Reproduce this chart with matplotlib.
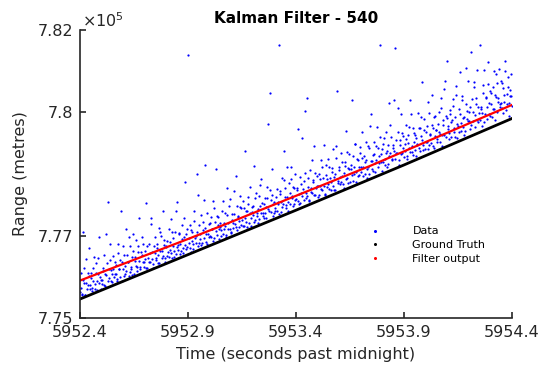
import matplotlib
matplotlib.use("Agg")
import matplotlib.pyplot as plt
from matplotlib.lines import Line2D
from matplotlib.ticker import FuncFormatter

# Radar range data (metres) vs time (seconds past midnight), first batch of samples
data_t = [
    5952.400, 5952.405, 5952.410, 5952.415, 5952.420, 5952.425, 5952.430, 5952.435, 5952.440, 5952.445,
    5952.450, 5952.455, 5952.460, 5952.465, 5952.470, 5952.475, 5952.480, 5952.485, 5952.490, 5952.495,
    5952.500, 5952.505, 5952.510, 5952.515, 5952.520, 5952.525, 5952.530, 5952.535, 5952.540, 5952.545,
    5952.550, 5952.555, 5952.560, 5952.565, 5952.570, 5952.575, 5952.580, 5952.585, 5952.590, 5952.595,
    5952.600, 5952.605, 5952.610, 5952.615, 5952.620, 5952.625, 5952.630, 5952.635, 5952.640, 5952.645,
    5952.650, 5952.655, 5952.660, 5952.665, 5952.670, 5952.675, 5952.680, 5952.685, 5952.690, 5952.695,
    5952.700, 5952.705, 5952.710, 5952.715, 5952.720, 5952.725, 5952.730, 5952.735, 5952.740, 5952.745,
    5952.750, 5952.755, 5952.760, 5952.765, 5952.770, 5952.775, 5952.780, 5952.785, 5952.790, 5952.795,
    5952.800, 5952.805, 5952.810, 5952.815, 5952.820, 5952.825, 5952.830, 5952.835, 5952.840, 5952.845,
    5952.850, 5952.855, 5952.860, 5952.865, 5952.870, 5952.875, 5952.880, 5952.885, 5952.890, 5952.895,
    5952.900, 5952.905, 5952.910, 5952.915, 5952.920, 5952.925, 5952.930, 5952.935, 5952.940, 5952.945,
    5952.950, 5952.955, 5952.960, 5952.965, 5952.970, 5952.975, 5952.980, 5952.985, 5952.990, 5952.995,
    5953.000, 5953.005, 5953.010, 5953.015, 5953.020, 5953.025, 5953.030, 5953.035, 5953.040, 5953.045,
    5953.050, 5953.055, 5953.060, 5953.065, 5953.070, 5953.075, 5953.080, 5953.085, 5953.090, 5953.095,
    5953.100, 5953.105, 5953.110, 5953.115, 5953.120, 5953.125, 5953.130, 5953.135, 5953.140, 5953.145,
    5953.150, 5953.155, 5953.160, 5953.165, 5953.170, 5953.175, 5953.180, 5953.185, 5953.190, 5953.195,
    5953.200, 5953.205, 5953.210, 5953.215, 5953.220, 5953.225, 5953.230, 5953.235, 5953.240, 5953.245,
    5953.250, 5953.255, 5953.260, 5953.265, 5953.270, 5953.275, 5953.280, 5953.285, 5953.290, 5953.295,
    5953.300, 5953.305, 5953.310, 5953.315, 5953.320, 5953.325, 5953.330, 5953.335, 5953.340, 5953.345,
    5953.350, 5953.355, 5953.360, 5953.365, 5953.370, 5953.375, 5953.380, 5953.385, 5953.390, 5953.395,
    5953.400, 5953.405, 5953.410, 5953.415, 5953.420, 5953.425, 5953.430, 5953.435, 5953.440, 5953.445,
    5953.450, 5953.455, 5953.460, 5953.465, 5953.470, 5953.475, 5953.480, 5953.485, 5953.490, 5953.495,
    5953.500, 5953.505, 5953.510, 5953.515, 5953.520, 5953.525, 5953.530, 5953.535, 5953.540, 5953.545,
    5953.550, 5953.555, 5953.560, 5953.565, 5953.570, 5953.575, 5953.580, 5953.585, 5953.590, 5953.595,
    5953.600, 5953.605, 5953.610, 5953.615, 5953.620, 5953.625, 5953.630, 5953.635, 5953.640, 5953.645,
    5953.650, 5953.655, 5953.660, 5953.665, 5953.670, 5953.675, 5953.680, 5953.685, 5953.690, 5953.695,
    5953.700, 5953.705, 5953.710, 5953.715, 5953.720, 5953.725, 5953.730, 5953.735, 5953.740, 5953.745,
    5953.750, 5953.755, 5953.760, 5953.765, 5953.770, 5953.775, 5953.780, 5953.785, 5953.790, 5953.795,
    5953.800, 5953.805, 5953.810, 5953.815, 5953.820, 5953.825, 5953.830, 5953.835, 5953.840, 5953.845,
    5953.850, 5953.855, 5953.860, 5953.865, 5953.870, 5953.875, 5953.880, 5953.885, 5953.890, 5953.895,
    5953.900, 5953.905, 5953.910, 5953.915, 5953.920, 5953.925, 5953.930, 5953.935, 5953.940, 5953.945,
    5953.950, 5953.955, 5953.960, 5953.965, 5953.970, 5953.975, 5953.980, 5953.985, 5953.990, 5953.995,
    5954.000, 5954.005, 5954.010, 5954.015, 5954.020, 5954.025, 5954.030, 5954.035, 5954.040, 5954.045,
    5954.050, 5954.055, 5954.060, 5954.065, 5954.070, 5954.075, 5954.080, 5954.085, 5954.090, 5954.095,
    5954.100, 5954.105, 5954.110, 5954.115, 5954.120, 5954.125, 5954.130, 5954.135, 5954.140, 5954.145,
    5954.150, 5954.155, 5954.160, 5954.165, 5954.170, 5954.175, 5954.180, 5954.185, 5954.190, 5954.195,
    5954.200, 5954.205, 5954.210, 5954.215, 5954.220, 5954.225, 5954.230, 5954.235, 5954.240, 5954.245,
    5954.250, 5954.255, 5954.260, 5954.265, 5954.270, 5954.275, 5954.280, 5954.285, 5954.290, 5954.295,
    5954.300, 5954.305, 5954.310, 5954.315, 5954.320, 5954.325, 5954.330, 5954.335, 5954.340, 5954.345,
    5954.350, 5954.355, 5954.360, 5954.365, 5954.370, 5954.375, 5954.380, 5954.385, 5954.390, 5954.395,
    5954.400,
]
data_r = [
    775640, 776090, 775570, 777090, 775840, 775560, 776440, 775800, 776030, 775710,
    776090, 775650, 775890, 776480, 775820, 776330, 775670, 776060, 776960, 775920,
    775820, 776150, 776530, 775770, 776050, 776330, 777810, 775960, 776790, 776160,
    775870, 776500, 776060, 776290, 775940, 776790, 776200, 776420, 777590, 775910,
    776190, 776540, 776080, 777170, 776350, 776030, 776750, 776200, 776490, 777040,
    776060, 776390, 776890, 776230, 776600, 777440, 776200, 776530, 776790, 776360,
    776630, 777790, 776220, 776470, 776790, 776350, 777290, 776600, 776220, 776970,
    776470, 776810, 776340, 777180, 776620, 776990, 776450, 777600, 776780, 776370,
    776720, 776510, 777160, 776650, 777410, 776450, 776950, 776640, 777080, 776550,
    777830, 776770, 777040, 776550, 777250, 776700, 776960, 778310, 776670, 777170,
    781390, 776830, 777260, 776610, 777100, 776790, 777600, 776990, 778510, 776750,
    777260, 776920, 777500, 776820, 777140, 777860, 778730, 777050, 776810, 777290,
    776990, 777450, 777170, 776880, 777680, 777340, 778620, 777010, 777460, 777160,
    777300, 776990, 777840, 777170, 777540, 776970, 778170, 777310, 777730, 777160,
    777060, 777530, 777320, 778080, 777220, 777730, 777460, 777200, 777960, 777670,
    777380, 777850, 777240, 779050, 777600, 777200, 777770, 778180, 777420, 777570,
    777730, 778690, 777390, 778040, 777560, 777310, 777960, 777720, 778380, 777550,
    777420, 777920, 777700, 778190, 779710, 777590, 780470, 777880, 777990, 777480,
    777820, 777600, 778140, 777770, 781630, 778020, 777570, 778410, 777770, 779050,
    778160, 777750, 778680, 777610, 778030, 778380, 777910, 778180, 777760, 778510,
    777900, 778170, 779590, 777760, 778420, 778040, 779380, 778320, 780020, 777920,
    780340, 778190, 777870, 778590, 778070, 778850, 778360, 778000, 778520, 778210,
    777930, 778490, 778210, 778840, 778100, 778410, 779210, 777980, 778720, 778370,
    778250, 778680, 778120, 778540, 779110, 778420, 778100, 778880, 780510, 778290,
    778660, 778260, 779020, 778440, 778170, 778800, 779540, 778410, 778650, 778990,
    778310, 778620, 780310, 778930, 778510, 779240, 778300, 778830, 778480, 779160,
    778660, 779520, 778460, 778930, 778780, 779270, 778400, 778670, 779120, 779960,
    778610, 778970, 779270, 778540, 778830, 779640, 779140, 778760, 781630, 778980,
    778570, 779220, 778860, 779530, 779060, 778740, 780220, 779010, 779390, 778860,
    779200, 780290, 781560, 779020, 779520, 778730, 779320, 779970, 779010, 779430,
    778920, 779230, 779680, 778860, 779440, 779130, 780290, 779040, 779620, 779270,
    779450, 778930, 779230, 779980, 779140, 779630, 779430, 780730, 779080, 779830,
    779280, 779660, 779110, 779980, 779460, 779260, 780420, 779630, 779120, 779910,
    779570, 779280, 780010, 779480, 780350, 779180, 779810, 779440, 780770, 779910,
    781240, 779600, 779360, 780050, 779770, 780330, 779530, 779890, 780640, 779380,
    779660, 780080, 780980, 779550, 780290, 779850, 779440, 781070, 780040, 779800,
    780000, 779590, 781460, 780320, 779780, 780610, 779940, 780200, 781030, 779760,
    781630, 780070, 779660, 780480, 781040, 779950, 780380, 779830, 780680, 780220,
    779910, 780480, 780090, 781010, 779820, 780380, 780710, 780240, 781050, 780120,
    780220, 780710, 779980, 780420, 781010, 780190, 780620, 779920, 780390, 780940,
    780150,
]

# second batch of samples, between the first ones
data2_t = [
    5952.4025, 5952.4075, 5952.4125, 5952.4175, 5952.4225, 5952.4275, 5952.4325, 5952.4375, 5952.4425, 5952.4475,
    5952.4525, 5952.4575, 5952.4625, 5952.4675, 5952.4725, 5952.4775, 5952.4825, 5952.4875, 5952.4925, 5952.4975,
    5952.5025, 5952.5075, 5952.5125, 5952.5175, 5952.5225, 5952.5275, 5952.5325, 5952.5375, 5952.5425, 5952.5475,
    5952.5525, 5952.5575, 5952.5625, 5952.5675, 5952.5725, 5952.5775, 5952.5825, 5952.5875, 5952.5925, 5952.5975,
    5952.6025, 5952.6075, 5952.6125, 5952.6175, 5952.6225, 5952.6275, 5952.6325, 5952.6375, 5952.6425, 5952.6475,
    5952.6525, 5952.6575, 5952.6625, 5952.6675, 5952.6725, 5952.6775, 5952.6825, 5952.6875, 5952.6925, 5952.6975,
    5952.7025, 5952.7075, 5952.7125, 5952.7175, 5952.7225, 5952.7275, 5952.7325, 5952.7375, 5952.7425, 5952.7475,
    5952.7525, 5952.7575, 5952.7625, 5952.7675, 5952.7725, 5952.7775, 5952.7825, 5952.7875, 5952.7925, 5952.7975,
    5952.8025, 5952.8075, 5952.8125, 5952.8175, 5952.8225, 5952.8275, 5952.8325, 5952.8375, 5952.8425, 5952.8475,
    5952.8525, 5952.8575, 5952.8625, 5952.8675, 5952.8725, 5952.8775, 5952.8825, 5952.8875, 5952.8925, 5952.8975,
    5952.9025, 5952.9075, 5952.9125, 5952.9175, 5952.9225, 5952.9275, 5952.9325, 5952.9375, 5952.9425, 5952.9475,
    5952.9525, 5952.9575, 5952.9625, 5952.9675, 5952.9725, 5952.9775, 5952.9825, 5952.9875, 5952.9925, 5952.9975,
    5953.0025, 5953.0075, 5953.0125, 5953.0175, 5953.0225, 5953.0275, 5953.0325, 5953.0375, 5953.0425, 5953.0475,
    5953.0525, 5953.0575, 5953.0625, 5953.0675, 5953.0725, 5953.0775, 5953.0825, 5953.0875, 5953.0925, 5953.0975,
    5953.1025, 5953.1075, 5953.1125, 5953.1175, 5953.1225, 5953.1275, 5953.1325, 5953.1375, 5953.1425, 5953.1475,
    5953.1525, 5953.1575, 5953.1625, 5953.1675, 5953.1725, 5953.1775, 5953.1825, 5953.1875, 5953.1925, 5953.1975,
    5953.2025, 5953.2075, 5953.2125, 5953.2175, 5953.2225, 5953.2275, 5953.2325, 5953.2375, 5953.2425, 5953.2475,
    5953.2525, 5953.2575, 5953.2625, 5953.2675, 5953.2725, 5953.2775, 5953.2825, 5953.2875, 5953.2925, 5953.2975,
    5953.3025, 5953.3075, 5953.3125, 5953.3175, 5953.3225, 5953.3275, 5953.3325, 5953.3375, 5953.3425, 5953.3475,
    5953.3525, 5953.3575, 5953.3625, 5953.3675, 5953.3725, 5953.3775, 5953.3825, 5953.3875, 5953.3925, 5953.3975,
    5953.4025, 5953.4075, 5953.4125, 5953.4175, 5953.4225, 5953.4275, 5953.4325, 5953.4375, 5953.4425, 5953.4475,
    5953.4525, 5953.4575, 5953.4625, 5953.4675, 5953.4725, 5953.4775, 5953.4825, 5953.4875, 5953.4925, 5953.4975,
    5953.5025, 5953.5075, 5953.5125, 5953.5175, 5953.5225, 5953.5275, 5953.5325, 5953.5375, 5953.5425, 5953.5475,
    5953.5525, 5953.5575, 5953.5625, 5953.5675, 5953.5725, 5953.5775, 5953.5825, 5953.5875, 5953.5925, 5953.5975,
    5953.6025, 5953.6075, 5953.6125, 5953.6175, 5953.6225, 5953.6275, 5953.6325, 5953.6375, 5953.6425, 5953.6475,
    5953.6525, 5953.6575, 5953.6625, 5953.6675, 5953.6725, 5953.6775, 5953.6825, 5953.6875, 5953.6925, 5953.6975,
    5953.7025, 5953.7075, 5953.7125, 5953.7175, 5953.7225, 5953.7275, 5953.7325, 5953.7375, 5953.7425, 5953.7475,
    5953.7525, 5953.7575, 5953.7625, 5953.7675, 5953.7725, 5953.7775, 5953.7825, 5953.7875, 5953.7925, 5953.7975,
    5953.8025, 5953.8075, 5953.8125, 5953.8175, 5953.8225, 5953.8275, 5953.8325, 5953.8375, 5953.8425, 5953.8475,
    5953.8525, 5953.8575, 5953.8625, 5953.8675, 5953.8725, 5953.8775, 5953.8825, 5953.8875, 5953.8925, 5953.8975,
    5953.9025, 5953.9075, 5953.9125, 5953.9175, 5953.9225, 5953.9275, 5953.9325, 5953.9375, 5953.9425, 5953.9475,
    5953.9525, 5953.9575, 5953.9625, 5953.9675, 5953.9725, 5953.9775, 5953.9825, 5953.9875, 5953.9925, 5953.9975,
    5954.0025, 5954.0075, 5954.0125, 5954.0175, 5954.0225, 5954.0275, 5954.0325, 5954.0375, 5954.0425, 5954.0475,
    5954.0525, 5954.0575, 5954.0625, 5954.0675, 5954.0725, 5954.0775, 5954.0825, 5954.0875, 5954.0925, 5954.0975,
    5954.1025, 5954.1075, 5954.1125, 5954.1175, 5954.1225, 5954.1275, 5954.1325, 5954.1375, 5954.1425, 5954.1475,
    5954.1525, 5954.1575, 5954.1625, 5954.1675, 5954.1725, 5954.1775, 5954.1825, 5954.1875, 5954.1925, 5954.1975,
    5954.2025, 5954.2075, 5954.2125, 5954.2175, 5954.2225, 5954.2275, 5954.2325, 5954.2375, 5954.2425, 5954.2475,
    5954.2525, 5954.2575, 5954.2625, 5954.2675, 5954.2725, 5954.2775, 5954.2825, 5954.2875, 5954.2925, 5954.2975,
    5954.3025, 5954.3075, 5954.3125, 5954.3175, 5954.3225, 5954.3275, 5954.3325, 5954.3375, 5954.3425, 5954.3475,
    5954.3525, 5954.3575, 5954.3625, 5954.3675, 5954.3725, 5954.3775, 5954.3825, 5954.3875, 5954.3925, 5954.3975,
]
data2_r = [
    775730, 775590, 775920, 776220, 775560, 775850, 775710, 776100, 776700, 775800,
    775960, 775740, 776210, 775700, 776090, 775900, 776460, 775850, 776000, 775710,
    775920, 776220, 775790, 776080, 777030, 775910, 776200, 776400, 775890, 776080,
    776200, 775990, 776370, 776080, 775890, 776580, 776180, 776000, 776350, 776750,
    776020, 776260, 776140, 776520, 776350, 776970, 776120, 776250, 776050, 776640,
    776490, 776260, 776130, 776740, 776380, 776250, 776610, 776970, 776350, 776250,
    776430, 776210, 776760, 776350, 776590, 777420, 776430, 776310, 776750, 776580,
    776410, 776700, 776540, 776330, 777100, 776620, 776500, 776890, 776450, 776740,
    776880, 776600, 776480, 776840, 776570, 777090, 776750, 776490, 777590, 776720,
    776660, 777070, 776810, 776630, 776920, 776570, 777430, 776780, 777030, 776720,
    776950, 776710, 777130, 776860, 776680, 777360, 776940, 776830, 777100, 777980,
    776830, 777050, 776770, 777330, 776950, 777190, 776850, 777550, 777040, 776970,
    777300, 776980, 777160, 777850, 776950, 777110, 777490, 777250, 776930, 777210,
    777130, 777590, 777050, 777320, 777240, 777010, 777510, 777170, 777900, 777100,
    777370, 777180, 777520, 777280, 778440, 777140, 777490, 777350, 777700, 777270,
    777230, 777680, 777440, 777340, 777590, 777940, 777320, 777550, 777230, 777690,
    777510, 777330, 777910, 777470, 777640, 777400, 778230, 777550, 777800, 777480,
    777760, 777550, 777430, 777920, 777660, 778100, 777570, 778610, 777770, 777560,
    777680, 777950, 777610, 777830, 777530, 778080, 777810, 777700, 778350, 777940,
    777680, 777940, 777830, 778270, 777760, 778660, 777960, 777720, 778160, 777860,
    778110, 777850, 778010, 777790, 778260, 777960, 778140, 777870, 778530, 778050,
    777970, 778410, 777850, 778170, 778050, 778310, 779180, 778000, 778160, 778440,
    778220, 778000, 778370, 778130, 778670, 778220, 778020, 778480, 778190, 778870,
    778140, 778400, 778300, 778640, 778210, 778100, 778500, 779180, 778330, 778590,
    778420, 778310, 778800, 778260, 778530, 778700, 778390, 779030, 778280, 778620,
    778720, 778470, 778340, 778680, 779240, 778560, 778860, 778450, 778670, 779000,
    778540, 778900, 778680, 778500, 778850, 778610, 779190, 778490, 779660, 778820,
    778810, 778570, 778980, 778760, 779190, 778670, 778940, 779390, 778780, 779110,
    778800, 779370, 778730, 779010, 778680, 779200, 778930, 779680, 778840, 779130,
    779060, 778860, 779320, 779010, 780110, 778830, 779200, 778980, 779490, 779120,
    779050, 779350, 778930, 779250, 779640, 779040, 779960, 779190, 778950, 779500,
    779080, 779370, 779210, 779630, 779070, 779890, 779330, 779200, 779560, 779100,
    779520, 779280, 780260, 779210, 779470, 779700, 779170, 779880, 779420, 779580,
    779340, 779720, 779510, 779280, 780100, 779450, 779690, 780560, 779390, 779870,
    779660, 779500, 779960, 779410, 779810, 780150, 779610, 779400, 780410, 779710,
    779520, 779960, 779730, 780390, 779640, 779890, 779540, 780200, 779840, 780760,
    779800, 780140, 779680, 780000, 780740, 779640, 780350, 779810, 780130, 779990,
    779820, 780140, 779990, 780670, 779770, 780350, 780120, 781220, 779960, 780510,
    780210, 779880, 780620, 780080, 780410, 780920, 780000, 780350, 780210, 780770,
    780100, 780590, 780240, 781250, 780050, 780440, 780860, 780230, 780550, 780390,
]

truth_t = [5952.4, 5952.9, 5953.4, 5953.9, 5954.4]
truth_r = [775460, 776540, 777620, 778720, 779850]

filt_t = [5952.4, 5952.9, 5953.05, 5953.4, 5953.74, 5953.9, 5954.4]
filt_r = [775910, 776920, 777230, 777970, 778690, 779050, 780180]

x_ticks = [5952.4, 5952.9, 5953.4, 5953.9, 5954.4]
y_ticks = [775000, 777000, 780000, 782000]

dark = "#262626"

fig = plt.figure(figsize=(5.42, 3.73), dpi=100)
ax = fig.add_axes([0.1476, 0.1475, 0.797, 0.772])

for tt, rr in [(data_t, data_r), (data2_t, data2_r)]:
    ax.plot(tt, rr, linestyle="none", marker="o", markersize=1.6,
            markeredgewidth=0, color="#0000ff")
ax.plot(truth_t, truth_r, color="black", lw=2.0)
ax.plot(filt_t, filt_r, color="#ff0000", lw=1.6)

ax.set_xlim(5952.4, 5954.4)
ax.set_ylim(775000, 782000)
ax.set_xticks(x_ticks)
ax.set_xticklabels([f"{v:.1f}" for v in x_ticks])
ax.set_yticks(y_ticks)
ax.yaxis.set_major_formatter(FuncFormatter(lambda v, p: f"{v / 1e5:g}"))

for s in ["top", "right"]:
    ax.spines[s].set_visible(False)
for s in ["left", "bottom"]:
    ax.spines[s].set_color(dark)
    ax.spines[s].set_linewidth(1.2)
ax.tick_params(direction="in", length=4, width=1.2, colors=dark,
               labelsize=11.5, pad=5)

ax.text(0.005, 1.0, r"$\times10^{5}$", transform=ax.transAxes,
        fontsize=11.5, color=dark, ha="left", va="bottom")

ax.set_title("Kalman Filter - 540", fontsize=11, fontweight="bold", pad=5)
ax.set_xlabel("Time (seconds past midnight)", fontsize=11.5, color=dark, labelpad=5)
ax.set_ylabel("Range (metres)", fontsize=11.5, color=dark, labelpad=7)

handles = [
    Line2D([], [], linestyle="none", marker="o", markersize=2.2, markeredgewidth=0, color="#0000ff"),
    Line2D([], [], linestyle="none", marker="o", markersize=2.2, markeredgewidth=0, color="black"),
    Line2D([], [], linestyle="none", marker="o", markersize=2.2, markeredgewidth=0, color="#ff0000"),
]
fig.legend(handles, ["Data", "Ground Truth", "Filter output"], loc="upper left",
           bbox_to_anchor=(0.6605, 0.393), frameon=False, fontsize=8,
           handlelength=3, handletextpad=1.9, borderpad=0, borderaxespad=0,
           labelspacing=0.35)

fig.savefig("out.png", dpi=100)
